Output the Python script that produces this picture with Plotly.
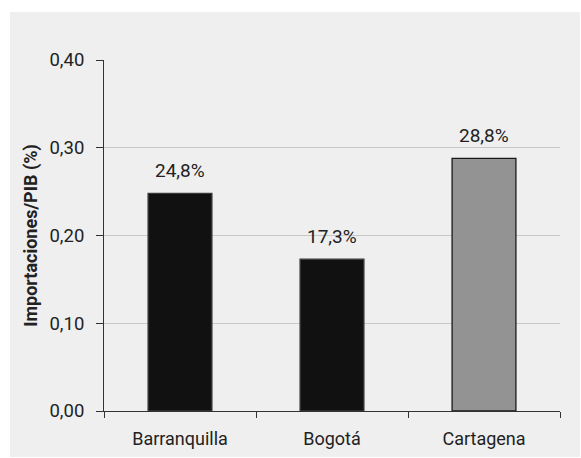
import plotly.graph_objects as go

# Import-to-GDP ratio by city
ciudades = ["Barranquilla", "Bogotá", "Cartagena"]
importaciones_pib = [0.248, 0.173, 0.288]
colores_barra = ["#111111", "#111111", "#939393"]
colores_borde = ["#3a3a3a", "#3a3a3a", "#1a1a1a"]
y_ticks = [0.0, 0.1, 0.2, 0.3, 0.4]

FONT = "Roboto, Liberation Sans, Arial, sans-serif"
FS = 19
W, H = 581, 458
ML, MR, MT, MB = 104, 21, 60, 47
pw, ph = W - ML - MR, H - MT - MB

fig = go.Figure()
fig.add_trace(go.Bar(
    x=ciudades,
    y=importaciones_pib,
    marker=dict(color=colores_barra, line=dict(color=colores_borde, width=1.3)),
    width=0.42,
    hoverinfo="skip",
))

# value labels above each bar
for c, v in zip(ciudades, importaciones_pib):
    fig.add_annotation(
        x=c, y=v, xref="x", yref="y",
        text=f"{v * 100:.1f}%".replace(".", ","),
        showarrow=False, yanchor="bottom", yshift=9,
        font=dict(family=FONT, size=FS, color="#222222"),
    )

# grey panel behind the whole chart
fig.add_shape(
    type="rect", xref="paper", yref="paper", layer="below",
    x0=(10 - ML) / pw, x1=(580 - ML) / pw,
    y0=(ph + MT - 457) / ph, y1=(ph + MT - 12) / ph,
    fillcolor="#efefef", line=dict(width=0),
)

fig.update_layout(
    width=W, height=H,
    margin=dict(l=ML, r=MR, t=MT, b=MB, pad=0, autoexpand=False),
    paper_bgcolor="white",
    plot_bgcolor="#efefef",
    separators=",.",
    showlegend=False,
    font=dict(family=FONT, size=FS, color="#222222"),
    xaxis=dict(
        type="category",
        automargin=False,
        showline=True, linecolor="#333333", linewidth=1,
        ticks="outside", tickson="boundaries", ticklen=6,
        tickcolor="#333333", tickwidth=1,
        showgrid=False,
        tickfont=dict(family=FONT, size=18, color="#222222"),
        ticklabelstandoff=11,
    ),
    yaxis=dict(
        range=[0, 0.4],
        automargin=False,
        tickvals=y_ticks,
        tickformat=".2f",
        showline=True, linecolor="#333333", linewidth=1,
        ticks="outside", ticklen=7, tickcolor="#333333", tickwidth=1,
        showgrid=True, gridcolor="#c8c8c8", gridwidth=1,
        zeroline=False,
        tickfont=dict(family=FONT, size=18.5, color="#222222"),
        ticklabelstandoff=8,
        title=dict(
            text="<b>Importaciones/PIB (%)</b>",
            font=dict(family=FONT, size=18, color="#222222"),
            standoff=7,
        ),
    ),
)

fig.write_html("out.html")
